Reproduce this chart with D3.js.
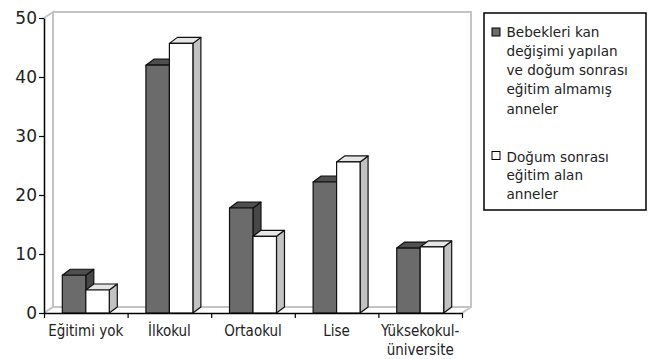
<!DOCTYPE html>
<html>
<head>
<meta charset="utf-8">
<script src="https://cdn.jsdelivr.net/npm/d3@7"></script>
<style>
  html, body { margin: 0; padding: 0; background: #fff; }
  svg { display: block; }
  .lab-x { font-family: "DejaVu Sans Condensed", "DejaVu Sans", sans-serif; font-stretch: condensed; }
  .lab-y { font-family: "DejaVu Sans", sans-serif; }
  .lab-legend { font-family: "DejaVu Sans", sans-serif; font-stretch: normal; }
</style>
</head>
<body>
<svg id="chart" width="652" height="359"></svg>
<script>
// Education level of mothers (percent)
const categories = ["Eğitimi yok", "İlkokul", "Ortaokul", "Lise", "Yüksekokul-\nüniversite"];
const seriesNames = [
  "Bebekleri kan değişimi yapılan ve doğum sonrası eğitim almamış anneler",
  "Doğum sonrası eğitim alan anneler"
];
const noTraining = [6.4, 42.0, 17.8, 22.2, 11.0];
const withTraining = [3.9, 45.7, 13.0, 25.6, 11.2];
const yTicks = [0, 10, 20, 30, 40, 50];
const legendLines = [
  ["Bebekleri kan", "değişimi yapılan", "ve doğum sonrası", "eğitim almamış", "anneler"],
  ["Doğum sonrası", "eğitim alan", "anneler"]
];

(function () {
const svg = d3.select("#chart");
const plotLeft = 44, plotRight = 462, plotBottom = 313, plotTop = 18;
const dx = 8, dy = -6;       // bar depth offset
const wdx = 9, wdy = -6;     // wall depth offset

const x0 = d3.scaleBand().domain(categories).range([plotLeft, plotRight]).padding(0);
const x1 = d3.scaleBand().domain([0, 1]).range([0, x0.bandwidth()]).paddingOuter(0.78).paddingInner(0);
const y = d3.scaleLinear().domain([0, 50]).range([plotBottom, plotTop]);

// Walls and floor
const wallColor = "#c4c4c4";
const wallTop = y(50) + wdy;
const walls = svg.append("g").attr("fill", "none").attr("stroke", wallColor).attr("stroke-width", 2);
walls.append("path").attr("d", d3.line()([
  [plotLeft, y(50)], [plotLeft + wdx, wallTop], [plotLeft + wdx, plotBottom + wdy]
]));
walls.append("path").attr("d", d3.line()([
  [plotLeft + wdx, wallTop], [plotRight + wdx, wallTop], [plotRight + wdx, plotBottom + wdy], [plotRight, plotBottom]
]));
walls.append("path").attr("d", d3.line()([
  [plotLeft, plotBottom], [plotLeft + wdx, plotBottom + wdy], [plotRight + wdx, plotBottom + wdy]
]));

// 3D bars
const styles = [
  { front: "#6b6b6b", top: "#4f4f4f", side: "#474747" },
  { front: "#ffffff", top: "#e6e6e6", side: "#c2c2c2" }
];
const data = [];
categories.forEach((c, i) => {
  [noTraining[i], withTraining[i]].forEach((v, s) => data.push({ c, s, v }));
});

const bars = svg.append("g").attr("stroke", "#111").attr("stroke-width", 1.2).attr("stroke-linejoin", "round");
data.forEach(d => {
  const xa = x0(d.c) + x1(d.s);
  const xe = xa + x1.bandwidth();
  const yt = y(d.v), yb = y(0);
  const g = bars.append("g");
  g.append("path").attr("fill", styles[d.s].side).attr("d", d3.line()([
    [xe, yb], [xe + dx, yb + dy], [xe + dx, yt + dy], [xe, yt]
  ]) + "Z");
  g.append("path").attr("fill", styles[d.s].top).attr("d", d3.line()([
    [xa, yt], [xa + dx, yt + dy], [xe + dx, yt + dy], [xe, yt]
  ]) + "Z");
  g.append("rect").attr("fill", styles[d.s].front)
    .attr("x", xa).attr("y", yt).attr("width", xe - xa).attr("height", yb - yt);
});

// Y axis
const yAxis = svg.append("g").attr("transform", `translate(${plotLeft},0)`)
  .call(d3.axisLeft(y).tickValues(yTicks).tickSize(5).tickSizeOuter(0).tickPadding(2));
yAxis.attr("font-family", null).attr("font-size", null);
yAxis.select(".domain").attr("stroke", "#000").attr("stroke-width", 1.5);
yAxis.selectAll(".tick line").attr("stroke", "#000").attr("stroke-width", 1.2);
yAxis.selectAll("text").attr("class", "lab-y").attr("font-size", 17).attr("fill", "#222");

// X axis: ticks at category boundaries
const xEdges = d3.scaleLinear().domain([0, categories.length]).range([plotLeft, plotRight]);
const xAxis = svg.append("g").attr("transform", `translate(0,${plotBottom})`)
  .call(d3.axisBottom(xEdges).tickValues(d3.range(categories.length + 1)).tickFormat("").tickSize(5).tickSizeOuter(0));
xAxis.select(".domain").attr("stroke", "#000").attr("stroke-width", 1.5);
xAxis.selectAll(".tick line").attr("stroke", "#000").attr("stroke-width", 1.2);

const xl = svg.append("g").attr("font-size", 15).attr("fill", "#222").attr("text-anchor", "middle");
categories.forEach(c => {
  const cx = x0(c) + x0.bandwidth() / 2;
  const t = xl.append("text").attr("class", "lab-x").attr("x", cx).attr("y", 336);
  c.split("\n").forEach((line, k) => {
    t.append("tspan").attr("x", cx).attr("dy", k === 0 ? 0 : 19).text(line);
  });
});

// Legend
const lg = svg.append("g");
lg.append("rect").attr("x", 484).attr("y", 13).attr("width", 162).attr("height", 197)
  .attr("fill", "#fff").attr("stroke", "#000").attr("stroke-width", 1.5);
const legendStarts = [36.7, 161.7];
const legendSquares = [28, 151.5];
const legendSpacing = [19.2, 18.5];
legendLines.forEach((lines, s) => {
  const by = legendStarts[s];
  lg.append("rect").attr("x", 492).attr("y", legendSquares[s]).attr("width", 8).attr("height", 8)
    .attr("fill", styles[s].front).attr("stroke", "#000").attr("stroke-width", 1);
  const t = lg.append("text").attr("class", "lab-legend").attr("x", 506.5).attr("y", by)
    .attr("font-size", 13.6).attr("fill", "#222");
  t.append("title").text(seriesNames[s]);
  lines.forEach((line, k) => {
    t.append("tspan").attr("x", 506.5).attr("dy", k === 0 ? 0 : legendSpacing[s]).text(line);
  });
});
})();
</script>
</body>
</html>
